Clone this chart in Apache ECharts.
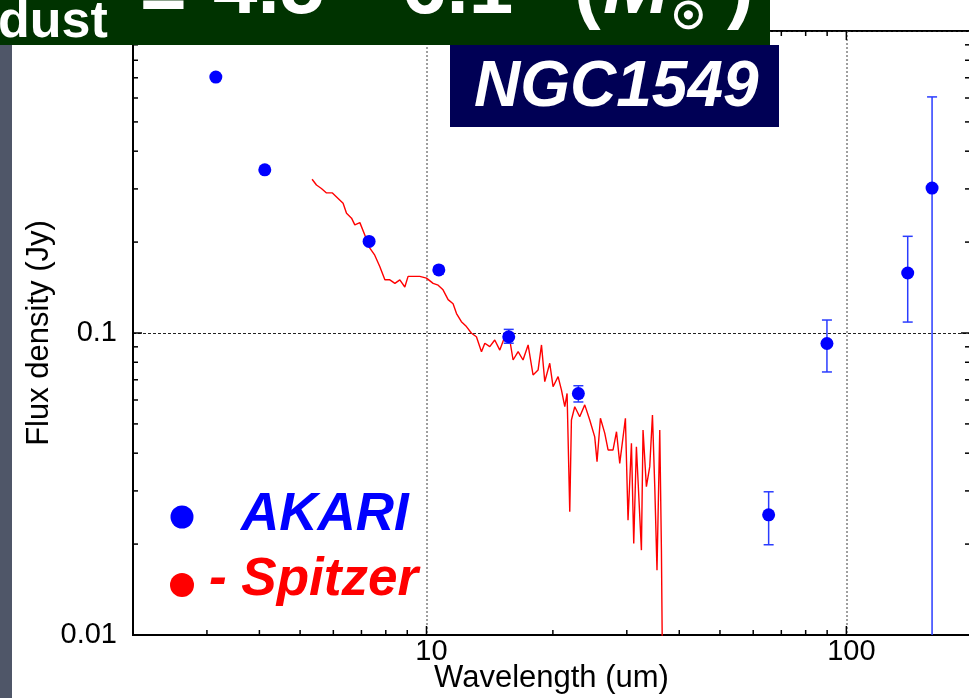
<!DOCTYPE html>
<html>
<head>
<meta charset="utf-8">
<script src="https://cdn.jsdelivr.net/npm/echarts@6/dist/echarts.min.js"></script>
<style>
  html, body { margin: 0; padding: 0; background: #fff; }
  #chart { width: 969px; height: 698px; }
</style>
</head>
<body>
<div id="chart"></div>
<script>
// Axis ranges (log-log)
const X_MIN = 2, X_MAX = 197;
const Y_MIN = 0.01, Y_MAX = 1;

// AKARI photometry (wavelength in um, flux density in Jy) with error ranges
const akariWave = [3.15, 4.12, 7.30, 10.7, 15.7, 23.0, 65.3, 89.9, 140, 160];
const akariFlux = [0.704, 0.347, 0.201, 0.1617, 0.0972, 0.0630, 0.0250, 0.0923, 0.158, 0.302];
const akariErrLow = [null, null, null, 0.157, 0.0925, 0.0591, 0.0199, 0.0743, 0.1087, 0.005];
const akariErrHigh = [null, null, null, 0.166, 0.1028, 0.0669, 0.0298, 0.1104, 0.209, 0.605];

// Spitzer IRS spectrum
const specWave = [5.34, 5.47, 5.62, 5.78, 5.97, 6.16, 6.33, 6.45, 6.63, 6.75, 6.94, 7.13, 7.33, 7.53, 7.74, 7.96, 8.18, 8.41, 8.64, 8.88,
  9.04, 9.29, 9.64, 10.0, 10.37, 10.66, 10.95, 11.26, 11.57, 11.79, 12.11, 12.45, 12.80, 13.15, 13.52, 13.77, 14.15, 14.54, 14.95, 15.36,
  15.79, 16.08, 16.53, 16.98, 17.46, 17.94, 18.44, 18.79, 19.13, 19.66, 20.02, 20.58, 20.96, 21.35, 21.62, 21.94, 22.14, 22.55, 23.17, 23.82,
  24.48, 25.16, 25.48, 25.96, 26.58, 27.07, 27.82, 28.35, 28.86, 29.77, 30.20, 30.77, 31.16, 31.62, 32.50, 32.79, 33.40, 34.02, 34.53, 34.97,
  35.40, 35.94, 36.27, 36.47];
const specFlux = [0.323, 0.309, 0.301, 0.291, 0.291, 0.279, 0.269, 0.249, 0.240, 0.228, 0.232, 0.211, 0.191, 0.181, 0.166, 0.150, 0.150, 0.146, 0.150, 0.142,
  0.154, 0.154, 0.154, 0.152, 0.146, 0.144, 0.139, 0.129, 0.125, 0.116, 0.109, 0.105, 0.0998, 0.0972, 0.0867, 0.0925, 0.0901, 0.0948, 0.0878, 0.0972,
  0.0948, 0.0814, 0.0867, 0.0814, 0.0913, 0.0726, 0.0754, 0.0913, 0.0690, 0.0794, 0.0664, 0.0717, 0.0648, 0.0570, 0.0631, 0.0256, 0.0515, 0.0570, 0.0528, 0.0578,
  0.0515, 0.0453, 0.0375, 0.0522, 0.0466, 0.0410, 0.0410, 0.0471, 0.0370, 0.0522, 0.0240, 0.0431, 0.0201, 0.0420, 0.0191, 0.0477, 0.0310, 0.0361, 0.0535, 0.0310,
  0.0164, 0.0477, 0.0191, 0.008];

// Tick positions on the frame
const xMajorTicks = [10, 100];
const xMinorTicks = [3, 4, 5, 6, 7, 8, 9, 20, 30, 40, 50, 60, 70, 80, 90];
const yMajorTicks = [0.1];
const yMinorTicks = [0.02, 0.03, 0.04, 0.05, 0.06, 0.07, 0.08, 0.09, 0.2, 0.3, 0.4, 0.5, 0.6, 0.7, 0.8, 0.9];

const FONT = '"Liberation Sans", Arial, Helvetica, sans-serif';
const AKARI_BLUE = '#0000ff';
const ERR_BLUE = '#2a3cff';
const SPITZER_RED = '#ff0000';

const chart = echarts.init(document.getElementById('chart'), null, { renderer: 'canvas' });

function fmt(v) { return String(Number(v.toPrecision(6))); }

function errorBarRenderer(params, api) {
  const x = api.value(0), lo = api.value(1), hi = api.value(2);
  const top = api.coord([x, hi]);
  const bot = api.coord([x, lo]);
  const cs = params.coordSys;
  const yTop = Math.max(top[1], cs.y);
  const yBot = Math.min(bot[1], cs.y + cs.height);
  const style = { stroke: ERR_BLUE, lineWidth: 1.5 };
  const cap = 5;
  const children = [{ type: 'line', shape: { x1: top[0], y1: yTop, x2: top[0], y2: yBot }, style }];
  if (top[1] >= cs.y) children.push({ type: 'line', shape: { x1: top[0] - cap, y1: top[1], x2: top[0] + cap, y2: top[1] }, style });
  if (bot[1] <= cs.y + cs.height) children.push({ type: 'line', shape: { x1: bot[0] - cap, y1: bot[1], x2: bot[0] + cap, y2: bot[1] }, style });
  return { type: 'group', children };
}

function xTickRenderer(len) {
  return function (params, api) {
    const v = api.value(0);
    const b = api.coord([v, Y_MIN]);
    const t = api.coord([v, Y_MAX]);
    const style = { stroke: '#000', lineWidth: 1.5 };
    return { type: 'group', children: [
      { type: 'line', shape: { x1: b[0], y1: b[1], x2: b[0], y2: b[1] - len }, style },
      { type: 'line', shape: { x1: t[0], y1: t[1], x2: t[0], y2: t[1] + len }, style }
    ] };
  };
}

function yTickRenderer(len) {
  return function (params, api) {
    const v = api.value(1);
    const l = api.coord([X_MIN, v]);
    const r = api.coord([X_MAX, v]);
    const style = { stroke: '#000', lineWidth: 1.5 };
    return { type: 'group', children: [
      { type: 'line', shape: { x1: l[0], y1: l[1], x2: l[0] + len, y2: l[1] }, style },
      { type: 'line', shape: { x1: r[0], y1: r[1], x2: r[0] - len, y2: r[1] }, style }
    ] };
  };
}

function tickSeries(values, isX, len) {
  return {
    type: 'custom',
    silent: true,
    clip: false,
    z: 6,
    renderItem: isX ? xTickRenderer(len) : yTickRenderer(len),
    encode: { x: 0, y: 1 },
    data: values.map(v => isX ? [v, Y_MIN] : [X_MIN, v])
  };
}

const errData = [];
akariWave.forEach((w, i) => {
  if (akariErrLow[i] != null) errData.push([w, akariErrLow[i], akariErrHigh[i]]);
});

function txt(x, y, text, font, fill, align, extra) {
  return {
    type: 'text', x, y, z: 100,
    style: Object.assign({
      text, font, fill,
      align: align || 'left', verticalAlign: 'middle',
      textAlign: align || 'left', textVerticalAlign: 'middle'
    }, extra || {})
  };
}

const option = {
  animation: false,
  backgroundColor: '#fff',
  grid: {
    left: 133, right: -1, top: 31, bottom: 63,
    show: true, borderColor: '#000', borderWidth: 2,
    containLabel: false, outerBoundsMode: 'none'
  },
  xAxis: {
    type: 'log', logBase: 10, min: X_MIN, max: X_MAX,
    name: 'Wavelength (um)', nameLocation: 'middle', nameGap: 28, nameMoveOverlap: false,
    nameTextStyle: { fontFamily: FONT, fontSize: 31, color: '#000' },
    axisLine: { show: true, lineStyle: { color: '#000', width: 2 } },
    axisTick: { show: false },
    minorTick: { show: false },
    axisLabel: {
      fontFamily: FONT, fontSize: 29, color: '#000', margin: 2,
      showMinLabel: false, showMaxLabel: false, padding: [0, 0, 0, 10],
      formatter: fmt
    },
    splitLine: { show: true, lineStyle: { color: '#808080', width: 1.5, type: [2, 2] } }
  },
  yAxis: {
    type: 'log', logBase: 10, min: Y_MIN, max: Y_MAX,
    name: 'Flux density (Jy)', nameLocation: 'middle', nameGap: 78, nameRotate: 90, nameMoveOverlap: false,
    nameTextStyle: { fontFamily: FONT, fontSize: 31, color: '#000' },
    axisLine: { show: true, lineStyle: { color: '#000', width: 2 } },
    axisTick: { show: false },
    minorTick: { show: false },
    axisLabel: {
      fontFamily: FONT, fontSize: 29, color: '#000', margin: 16,
      showMaxLabel: false, padding: [0, 0, 6, 0],
      formatter: fmt
    },
    splitLine: { show: true, lineStyle: { color: '#222', width: 1, type: [3, 2] } }
  },
  series: [
    {
      name: 'Spitzer', type: 'line',
      data: specWave.map((w, i) => [w, specFlux[i]]),
      showSymbol: false, clip: true, z: 2,
      lineStyle: { color: SPITZER_RED, width: 1.4 }
    },
    {
      name: 'AKARI error', type: 'custom', z: 3, clip: false,
      renderItem: errorBarRenderer,
      encode: { x: 0, y: [1, 2] },
      data: errData
    },
    {
      name: 'AKARI', type: 'scatter', z: 4,
      symbol: 'circle', symbolSize: 13,
      itemStyle: { color: AKARI_BLUE, opacity: 1 },
      data: akariWave.map((w, i) => [w, akariFlux[i]])
    },
    tickSeries(xMajorTicks, true, 9),
    tickSeries(xMinorTicks, true, 5),
    tickSeries(yMajorTicks, false, 9),
    tickSeries(yMinorTicks, false, 5)
  ],
  graphic: [
    // title banner
    { type: 'rect', z: 90, shape: { x: 0, y: 0, width: 770, height: 45 }, style: { fill: '#003300' } },
    txt(-2, 23, 'dust', 'bold 52px ' + FONT, '#fff'),
    txt(140, -2, '=', 'bold 80px ' + FONT, '#fff'),
    txt(213, -9, '4.5', 'bold 80px ' + FONT, '#fff'),
    txt(345, -9, '~', 'bold 80px ' + FONT, '#fff'),
    txt(402, -9, '6.1', 'bold 80px ' + FONT, '#fff'),
    txt(574, -9, '(', 'bold 80px ' + FONT, '#fff'),
    txt(603, -9, 'M', 'italic bold 80px ' + FONT, '#fff'),
    txt(688.5, 18.5, '\u2609', '36px "DejaVu Sans"', '#fff', 'center', { stroke: '#fff', lineWidth: 2.5 }),
    txt(727, -9, ')', 'bold 80px ' + FONT, '#fff'),
    // side strip
    { type: 'rect', z: 90, shape: { x: 0, y: 45, width: 12, height: 653 }, style: { fill: '#4f5668' } },
    // galaxy label
    { type: 'rect', z: 90, shape: { x: 450, y: 45, width: 329, height: 82 }, style: { fill: '#000055' } },
    txt(474, 88, 'NGC1549', 'italic bold 64px ' + FONT, '#fff'),
    // legend
    { type: 'circle', z: 100, shape: { cx: 182, cy: 517, r: 11.5 }, style: { fill: AKARI_BLUE } },
    txt(241, 515, 'AKARI', 'italic bold 53px ' + FONT, AKARI_BLUE),
    { type: 'circle', z: 100, shape: { cx: 182, cy: 585, r: 12 }, style: { fill: SPITZER_RED } },
    txt(209, 580, '- Spitzer', 'italic bold 53px ' + FONT, SPITZER_RED)
  ]
};

chart.setOption(option);
</script>
</body>
</html>
